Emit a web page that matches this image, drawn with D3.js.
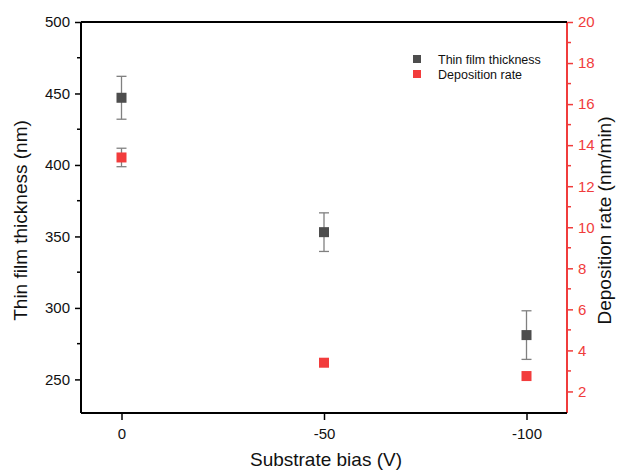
<!DOCTYPE html>
<html>
<head>
<meta charset="utf-8">
<script src="https://cdn.jsdelivr.net/npm/d3@7"></script>
<style>
  html, body { margin: 0; padding: 0; background: #fff; }
  svg { display: block; font-family: Arial, "Liberation Sans", sans-serif; }
</style>
</head>
<body>
<svg id="chart" width="624" height="475"></svg>
<script>
// Substrate bias values (V)
const bias = [0, -50, -100];
// Film thickness (nm) and its error
const thickness = [447, 353, 281];
const thicknessErr = [15, 13.5, 17];
// Deposition rate (nm/min) and its error
const rate = [13.4, 3.4, 2.75];
const rateErr = [0.45, 0, 0];

const xTicks = [0, -50, -100];
const leftTicks = [250, 300, 350, 400, 450, 500];
const leftMinor = [275, 325, 375, 425, 475];
const rightTicks = [2, 4, 6, 8, 10, 12, 14, 16, 18, 20];
const rightMinor = [3, 5, 7, 9, 11, 13, 15, 17, 19];

const seriesNames = ["Thin film thickness", "Deposition rate"];
const colors = { thick: "#4d4d4d", rate: "#f23c3c", err: "#808080", axisRed: "#f03c3c" };

const svg = d3.select("#chart");
const m = { left: 81, right: 567, top: 22, bottom: 413 };

const x = d3.scaleLinear().domain([10, -110]).range([m.left, m.right]);
const yL = d3.scaleLinear().domain([226.5, 500]).range([m.bottom, m.top]);
const yR = d3.scaleLinear().domain([0.95, 20]).range([m.bottom, m.top]);

// Axes
const axLeft = svg.append("g").attr("transform", `translate(${m.left},0)`)
  .call(d3.axisLeft(yL).tickValues(leftTicks).tickSize(6).tickPadding(5));
axLeft.append("g").selectAll("line").data(leftMinor).join("line")
  .attr("x1", 0).attr("x2", -4).attr("y1", d => yL(d)).attr("y2", d => yL(d))
  .attr("stroke", "#000").attr("stroke-width", 1.5);

const axRight = svg.append("g").attr("transform", `translate(${m.right},0)`)
  .call(d3.axisRight(yR).tickValues(rightTicks).tickSize(6).tickPadding(5));
axRight.append("g").selectAll("line").data(rightMinor).join("line")
  .attr("x1", 0).attr("x2", 4).attr("y1", d => yR(d)).attr("y2", d => yR(d))
  .attr("stroke", colors.axisRed).attr("stroke-width", 1.5);

// plain hyphen-minus for negative bias labels
const axBottom = svg.append("g").attr("transform", `translate(0,${m.bottom})`)
  .call(d3.axisBottom(x).tickValues(xTicks).tickSize(7).tickPadding(8).tickFormat(d => String(d)));

[axLeft, axBottom].forEach(g => {
  g.select(".domain").attr("stroke", "#000").attr("stroke-width", 2);
  g.selectAll(".tick line").attr("stroke", "#000").attr("stroke-width", 1.5);
  g.selectAll(".tick text").attr("fill", "#111").style("font-size", "15px");
});
axRight.select(".domain").attr("stroke", colors.axisRed).attr("stroke-width", 2);
axRight.selectAll(".tick line").attr("stroke", colors.axisRed).attr("stroke-width", 1.5);
axRight.selectAll(".tick text").attr("fill", colors.axisRed).style("font-size", "15px");

// strip outer tick stubs from domain paths
axLeft.select(".domain").attr("d", `M0,${m.bottom}V${m.top}`);
axRight.select(".domain").attr("d", `M0,${m.bottom}V${m.top}`);
axBottom.select(".domain").attr("d", `M${m.left},0H${m.right}`);

// top border
svg.append("line").attr("x1", m.left).attr("x2", m.right).attr("y1", m.top).attr("y2", m.top)
  .attr("stroke", "#000").attr("stroke-width", 2);

// Error bars
function errorBars(cls, vals, errs, yScale) {
  const data = bias.map((b, i) => ({ b, v: vals[i], e: errs[i] })).filter(d => d.e > 0);
  const g = svg.append("g").attr("class", cls).attr("stroke", colors.err).attr("stroke-width", 1.3);
  g.selectAll(".stem").data(data).join("line")
    .attr("x1", d => x(d.b)).attr("x2", d => x(d.b))
    .attr("y1", d => yScale(d.v + d.e)).attr("y2", d => yScale(d.v - d.e));
  ["top", "bot"].forEach(side => {
    g.selectAll("." + side).data(data).join("line")
      .attr("x1", d => x(d.b) - 5).attr("x2", d => x(d.b) + 5)
      .attr("y1", d => yScale(side === "top" ? d.v + d.e : d.v - d.e))
      .attr("y2", d => yScale(side === "top" ? d.v + d.e : d.v - d.e));
  });
}
errorBars("err-thick", thickness, thicknessErr, yL);
errorBars("err-rate", rate, rateErr, yR);

const sq = 10;
svg.append("g").selectAll("rect").data(bias.map((b, i) => ({ b, v: thickness[i] }))).join("rect")
  .attr("x", d => x(d.b) - sq / 2).attr("y", d => yL(d.v) - sq / 2)
  .attr("width", sq).attr("height", sq).attr("fill", colors.thick);
svg.append("g").selectAll("rect").data(bias.map((b, i) => ({ b, v: rate[i] }))).join("rect")
  .attr("x", d => x(d.b) - sq / 2).attr("y", d => yR(d.v) - sq / 2)
  .attr("width", sq).attr("height", sq).attr("fill", colors.rate);

// Axis titles
svg.append("text").attr("x", (m.left + m.right) / 2 + 2).attr("y", 466)
  .attr("text-anchor", "middle").style("font-size", "19px").attr("fill", "#111")
  .text("Substrate bias (V)");
svg.append("text").attr("transform", `translate(27,${(m.top + m.bottom) / 2 + 3}) rotate(-90)`)
  .attr("text-anchor", "middle").style("font-size", "19px").attr("fill", "#111")
  .text("Thin film thickness (nm)");
svg.append("text").attr("transform", `translate(611,${(m.top + m.bottom) / 2 + 3}) rotate(-90)`)
  .attr("text-anchor", "middle").style("font-size", "19px").attr("fill", "#111")
  .text("Deposition rate (nm/min)");

// Legend
const legend = svg.append("g").attr("transform", "translate(417,59)");
const legendColors = [colors.thick, colors.rate];
seriesNames.forEach((name, i) => {
  const row = legend.append("g").attr("transform", `translate(0,${i * 15})`);
  row.append("rect").attr("x", -4).attr("y", -4).attr("width", 8).attr("height", 8).attr("fill", legendColors[i]);
  row.append("text").attr("x", 21).attr("y", 4.5).style("font-size", "12.5px").attr("fill", "#111").text(name);
});
</script>
</body>
</html>
